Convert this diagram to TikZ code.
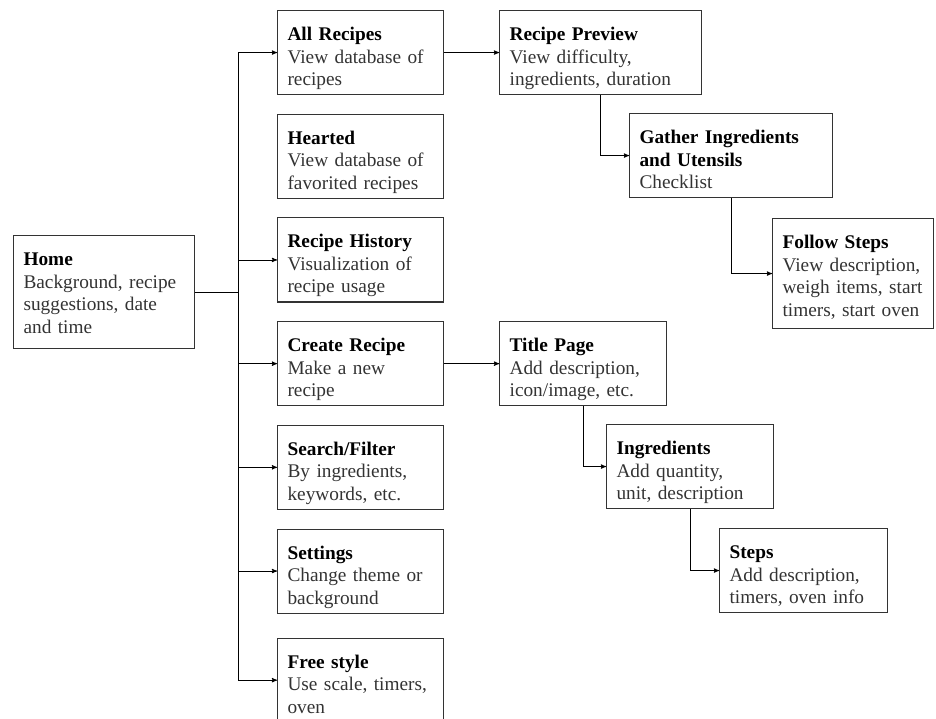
\documentclass[tikz,border=0pt]{standalone}
\usepackage{fontspec}
\setmainfont{Liberation Serif}
\usetikzlibrary{calc,positioning}
\usetikzlibrary{arrows}
\definecolor{bodygray}{gray}{0.2}
\tikzstyle{site map}=[
    ->,>=stealth',x=1pt,y=1pt,line width=0.9pt,
    node distance=18.6pt and 55pt,
    every node/.style={
        font=\fontsize{19.3}{22.5}\selectfont,
    },
]
\tikzstyle{screen}=[
    draw=black!80, line width=1.1pt,
    inner xsep=10pt, inner ysep=0pt,
    align=left, text width=146pt,
    text height=30pt, text depth=54pt,
]
\newcommand{\screenlabel}[2]{\textbf{#1}\\{\color{bodygray}#2}}

\begin{document}
\begin{tikzpicture}[site map]
        \useasboundingbox (0,0) rectangle (936,-719);
        \node[screen, anchor=north west, text width=161pt, text depth=83pt] (home) at (13,-235)
            {\screenlabel{Home}{Background, recipe\\suggestions, date\\and time}};

        \node[screen, anchor=north west] (allrec) at (277,-10)
            {\screenlabel{All Recipes}{View database of\\recipes}};
        \node[screen, below=of allrec] (hearted)
            {\screenlabel{Hearted}{View database of\\favorited recipes}};
        \node[screen, below=of hearted] (history)
            {\screenlabel{Recipe History}{Visualization of\\recipe usage}};
        \node[screen, below=of history] (create)
            {\screenlabel{Create Recipe}{Make a new\\recipe}};
        \node[screen, below=of create] (search)
            {\screenlabel{Search/Filter}{By ingredients,\\keywords, etc.}};
        \node[screen, below=of search] (settings)
            {\screenlabel{Settings}{Change theme or\\background}};
        \node[screen, below=24pt of settings] (free)
            {\screenlabel{Free style}{Use scale, timers,\\oven}};

        \node[screen, text width=182pt, right=of allrec] (preview)
            {\screenlabel{Recipe Preview}{View difficulty,\\ingredients, duration}};
        \node[screen, text width=183pt, anchor=north west] (gather) at (629,-113)
            {\textbf{Gather Ingredients}\\\textbf{and Utensils}\\{\color{bodygray}Checklist}};
        \node[screen, text width=141pt, text depth=80pt, anchor=north west] (follow) at (772,-218)
            {\screenlabel{Follow Steps}{View description,\\weigh items, start\\timers, start oven}};

        \node[screen, text width=147pt, right=of create] (title)
            {\screenlabel{Title Page}{Add description,\\icon/image, etc.}};
        \node[screen, text width=147pt, anchor=north west] (ingred) at (606,-424)
            {\screenlabel{Ingredients}{Add quantity,\\unit, description}};
        \node[screen, text width=148pt, anchor=north west] (steps) at (719,-528)
            {\screenlabel{Steps}{Add description,\\timers, oven info}};

        % menu bus
        \coordinate (bus) at ($(home.east)+(43,0)$);
        \draw[-] (home.east) -- (bus);
        \draw[-] (bus |- allrec.west) -- (bus |- free.west);
        \foreach \screen in {allrec,history,create,search,settings,free}
            \draw (bus |- \screen.west) -- (\screen.west);

        \draw (allrec) -- (preview);
        \draw (preview.south) |- (gather.west);
        \draw (gather.south) |- (follow.west);
        \draw (create) -- (title);
        \draw (title.south) |- (ingred.west);
        \draw (ingred.south) |- (steps.west);
    \end{tikzpicture}
\end{document}
